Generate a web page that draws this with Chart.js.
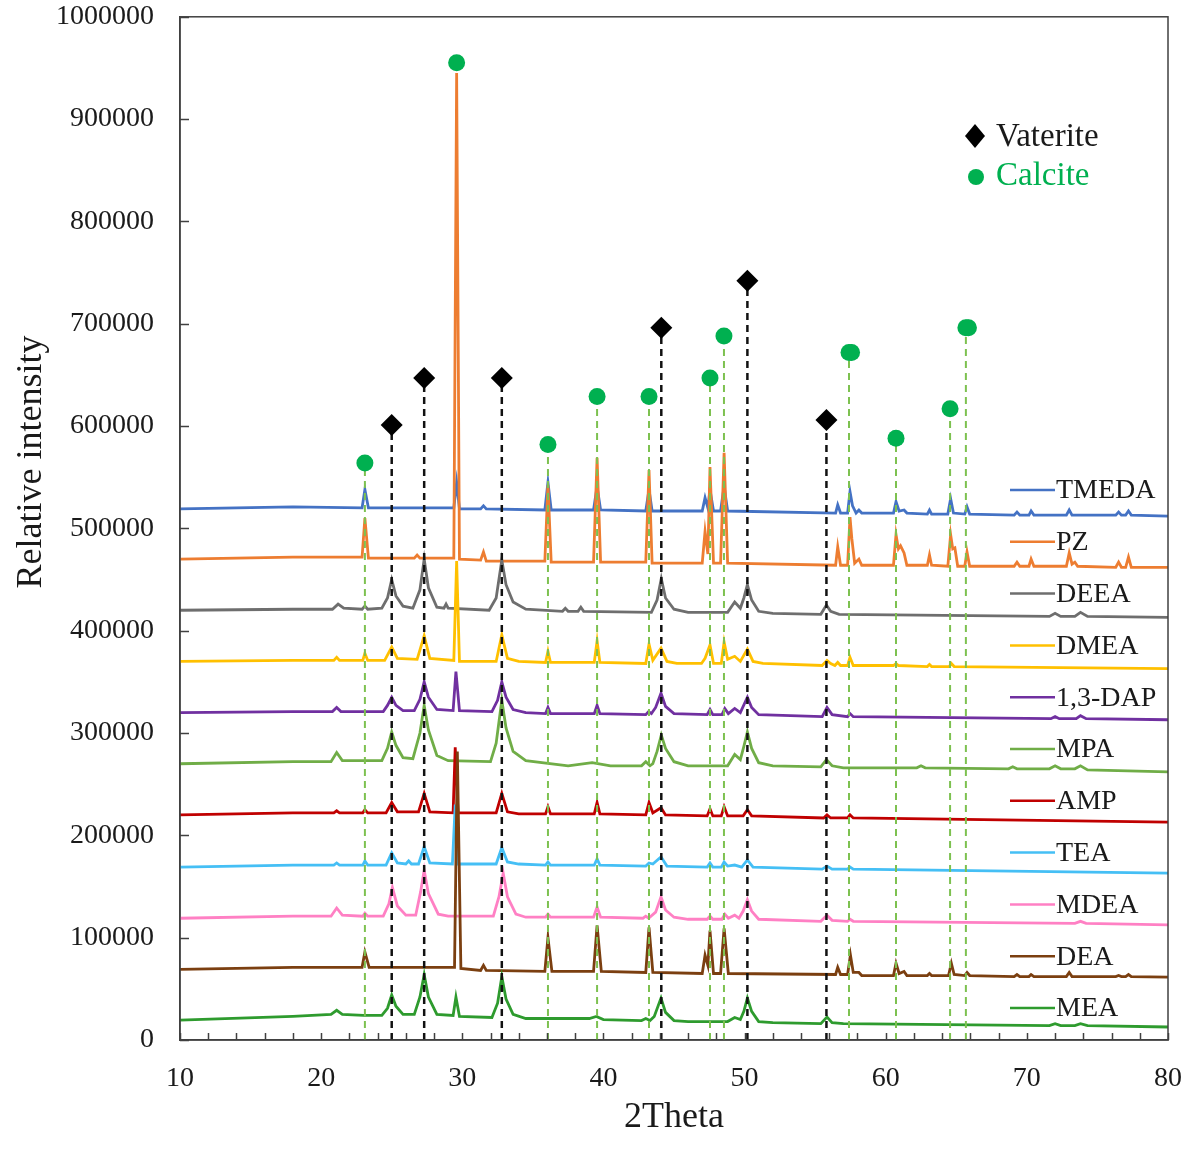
<!DOCTYPE html>
<html>
<head>
<meta charset="utf-8">
<title>XRD patterns</title>
<script src="https://cdn.jsdelivr.net/npm/chart.js@4.4.0/dist/chart.umd.min.js"></script>
<style>
  html, body { margin:0; padding:0; background:#fff; }
  #wrap { width:1200px; height:1163px; }
</style>
</head>
<body>
<div id="wrap"><canvas id="xrd" width="1200" height="1163"></canvas></div>
<script>
// ===== XRD patterns of precipitated CaCO3 =====
// intensities are written in thousands (k counts), offset per sample as in the figure

const SERIES_NAMES  = ['TMEDA','PZ','DEEA','DMEA','1,3-DAP','MPA','AMP','TEA','MDEA','DEA','MEA'];
const SERIES_COLORS = ['#4472C4','#ED7D31','#6E6E6E','#FFC000','#7030A0','#70AD47','#C00000','#45BFF5','#FF80C4','#7B3F10','#2E9B2E'];

const TMEDA = [[10,519],[18,521],[22.9,520],[23.1,538],[23.35,520],[29.4,520],[29.6,545],[29.8,519],[31.3,519],[31.5,522],[31.7,519],
  [35.85,518],[36.07,545],[36.3,518],[39.3,518],[39.55,541],[39.8,518],[43.0,517],[43.23,538],[43.45,517],[47.0,517],[47.2,530],[47.4,520],
  [47.55,538],[47.8,517],[48.3,517],[48.55,541],[48.8,517],[56.45,515],[56.6,523],[56.8,515],[57.3,515],[57.47,536],[57.65,522],[57.9,515],
  [58.1,518],[58.3,515],[60.55,515],[60.73,526],[60.95,517],[61.3,518],[61.5,515],[62.95,514],[63.1,518],[63.25,514],[64.4,514],[64.6,529],
  [64.8,515],[65.6,514],[65.76,521],[65.95,514],[69.1,513],[69.3,516],[69.5,513],[70.15,513],[70.3,517],[70.5,513],[72.8,513],[73.0,518],
  [73.2,513],[76.3,513],[76.5,516],[76.7,513],[77.0,513],[77.2,517],[77.4,513],[80,512]];

const PZ = [[10,470],[18,472],[22.9,472],[23.1,510],[23.35,471],[26.6,471],[26.8,474],[27.0,471],[29.4,471],[29.6,945],[29.8,470],
  [31.3,469],[31.5,477],[31.7,468],[35.85,468],[36.07,542],[36.3,467],[39.3,467],[39.55,569],[39.8,467],[43.0,467],[43.23,557],[43.45,466],
  [47.0,466],[47.2,497],[47.4,475],[47.55,560],[47.8,466],[48.3,466],[48.55,574],[48.8,466],[56.45,464],[56.6,482],[56.8,464],[57.3,464],
  [57.47,511],[57.6,490],[57.8,466],[58.1,470],[58.3,464],[60.55,464],[60.73,494],[60.9,480],[61.05,483],[61.3,476],[61.5,464],[62.95,464],
  [63.1,474],[63.25,464],[64.4,463],[64.6,494],[64.75,480],[64.9,481],[65.1,463],[65.6,463],[65.76,477],[65.95,463],[69.1,463],[69.3,467],
  [69.5,463],[70.15,463],[70.3,470],[70.5,463],[72.8,463],[73.0,476],[73.2,465],[73.4,467],[73.6,463],[76.3,462],[76.5,467],[76.7,462],
  [77.0,462],[77.2,472],[77.4,462],[80,462]];

const DEEA = [[10,420],[18,421],[20.8,421],[21.2,426],[21.6,422],[22.9,421],[23.1,424],[23.3,421],[24.3,422],[24.7,432],[25.0,450],[25.3,434],
  [25.8,424],[26.5,422],[27.0,440],[27.3,470],[27.6,442],[28.2,423],[28.7,422],[28.85,426],[29.0,422],[31.9,420],[32.4,432],[32.8,469],
  [33.1,445],[33.6,428],[34.5,421],[37.1,419],[37.3,422],[37.5,419],[38.2,419],[38.4,423],[38.6,419],[43.4,418],[43.8,430],[44.1,451],
  [44.4,432],[45.0,421],[46.0,418],[48.8,418],[49.3,428],[49.7,422],[49.95,432],[50.2,445],[50.5,430],[51.0,419],[52.0,417],[55.4,416],
  [55.8,425],[56.1,419],[56.7,416],[71.6,414],[72.0,417],[72.4,414],[73.4,414],[73.8,418],[74.3,414],[80,413]];

const DMEA = [[10,370],[18,371],[20.9,371],[21.1,374],[21.3,371],[22.95,371],[23.1,378],[23.3,371],[24.5,371],[25.0,384],[25.4,373],
  [26.8,372],[27.3,395],[27.7,373],[29.4,371],[29.6,468],[29.8,370],[32.4,370],[32.8,396],[33.2,373],[34.0,370],[35.9,369],[36.07,380],
  [36.25,369],[39.35,369],[39.55,390],[39.75,369],[43.0,368],[43.23,387],[43.5,371],[44.08,383],[44.5,370],[45.2,368],[46.95,368],[47.2,373],
  [47.55,386],[47.8,368],[48.35,368],[48.55,389],[48.8,372],[49.3,375],[49.7,370],[50.2,382],[50.6,370],[51.3,368],[55.5,366],[55.84,371],
  [56.1,368],[56.4,366],[56.6,369],[56.8,366],[57.3,366],[57.47,374],[57.7,366],[60.55,366],[60.73,368],[60.9,366],[62.95,365],[63.1,367],
  [63.25,365],[64.5,365],[64.65,368],[64.85,365],[80,363]];

const DAP = [[10,320],[18,321],[20.8,321],[21.1,325],[21.4,321],[24.4,321],[24.7,327],[25.0,335],[25.3,327],[25.8,322],[26.6,322],[27.0,333],
  [27.3,350],[27.6,335],[28.2,323],[29.35,322],[29.55,360],[29.8,322],[32.1,321],[32.5,332],[32.8,350],[33.1,335],[33.6,323],[34.5,320],
  [35.9,319],[36.07,325],[36.25,319],[39.35,319],[39.55,327],[39.75,319],[43.0,318],[43.2,321],[43.4,319],[43.7,325],[44.08,339],[44.4,326],
  [45.0,319],[47.35,318],[47.55,323],[47.75,318],[48.4,318],[48.6,324],[48.85,319],[49.3,324],[49.7,320],[50.2,335],[50.5,325],[51.0,318],
  [55.5,316],[55.84,325],[56.2,318],[57.3,316],[57.47,319],[57.7,316],[71.7,314],[72.0,316],[72.3,314],[73.5,314],[73.8,317],[74.2,314],[80,313]];

const MPA = [[10,270],[18,272],[20.7,272],[21.1,281],[21.5,273],[24.3,273],[24.7,285],[25.0,301],[25.3,288],[25.8,276],[26.5,275],[27.0,300],
  [27.3,327],[27.6,303],[28.2,278],[29.0,273],[32.0,272],[32.4,290],[32.8,332],[33.1,305],[33.6,282],[34.5,273],[37.5,268],[39.2,271],
  [40.5,268],[42.7,268],[43.0,272],[43.3,268],[43.5,270],[43.8,282],[44.1,298],[44.4,285],[45.0,272],[46.0,268],[48.8,268],[49.3,279],
  [49.7,274],[49.95,287],[50.2,301],[50.5,285],[51.0,271],[52.0,268],[55.4,267],[55.8,274],[56.2,268],[57.0,266],[62.2,266],[62.5,268],
  [62.8,266],[68.7,265],[69.0,267],[69.3,265],[71.6,265],[72.0,268],[72.4,265],[73.4,265],[73.8,268],[74.3,264],[80,262]];

const AMP = [[10,220],[18,222],[20.9,222],[21.1,224],[21.3,222],[22.95,222],[23.1,225],[23.3,222],[24.6,222],[25.0,232],[25.4,223],
  [26.9,223],[27.3,241],[27.7,223],[29.35,222],[29.5,286],[29.7,222],[32.4,222],[32.8,241],[33.2,223],[34.0,221],[35.9,221],[36.07,228],
  [36.25,221],[39.35,221],[39.55,232],[39.75,221],[43.0,220],[43.23,232],[43.5,222],[44.08,227],[44.4,220],[47.35,219],[47.55,226],
  [47.75,219],[48.35,219],[48.55,228],[48.8,219],[49.9,219],[50.2,225],[50.5,219],[55.6,217],[55.84,220],[56.1,217],[57.3,217],[57.47,220],
  [57.7,217],[80,213]];

const TEA = [[10,169],[18,171],[20.9,171],[21.1,173],[21.3,171],[22.95,171],[23.1,175],[23.3,171],[24.6,171],[25.0,183],[25.4,173],[26.0,172],
  [26.2,175],[26.4,172],[26.9,172],[27.3,189],[27.7,173],[29.3,172],[29.5,230],[29.7,172],[32.4,172],[32.8,188],[33.2,174],[34.0,172],
  [35.9,171],[36.07,174],[36.25,171],[39.35,171],[39.55,177],[39.75,171],[43.0,170],[43.23,173],[43.5,172],[44.08,179],[44.5,170],
  [47.35,169],[47.55,173],[47.75,169],[48.35,169],[48.55,174],[48.8,170],[49.3,171],[49.8,169],[50.2,176],[50.6,169],[55.5,167],[55.84,170],
  [56.2,167],[57.3,167],[57.47,169],[57.7,167],[80,163]];

const MDEA = [[10,119],[18,121],[20.7,121],[21.1,129],[21.5,122],[22.95,121],[23.1,124],[23.3,121],[24.4,121],[24.8,133],[25.05,149],
  [25.4,131],[26.0,122],[26.7,122],[27.05,145],[27.3,166],[27.6,143],[28.3,123],[29.0,121],[32.2,121],[32.6,140],[32.9,163],[33.2,140],
  [33.8,123],[34.5,120],[35.9,120],[36.07,123],[36.25,120],[39.3,120],[39.55,130],[39.8,120],[42.8,119],[43.0,121],[43.2,119],[43.7,125],
  [44.08,140],[44.4,127],[45.0,120],[46.0,118],[47.35,118],[47.55,121],[47.75,118],[48.4,118],[48.6,123],[48.85,119],[49.3,122],[49.6,119],
  [49.9,126],[50.2,137],[50.5,126],[51.0,118],[55.4,116],[55.84,122],[56.2,117],[57.3,116],[57.47,118],[57.7,116],[73.4,114],[73.8,116],
  [74.2,114],[80,112.5]];

const DEA = [[10,69],[18,71],[22.9,71],[23.1,86],[23.4,71],[29.45,71],[29.65,282],[29.9,70],[31.3,68],[31.5,73],[31.7,68],[35.85,67],
  [36.07,100],[36.35,67],[39.3,67],[39.55,112],[39.85,67],[43.0,66],[43.23,110],[43.5,66],[47.0,65],[47.2,83],[47.4,73],[47.55,107],
  [47.8,65],[48.3,65],[48.55,109],[48.85,65],[56.45,64],[56.6,71],[56.8,64],[57.3,64],[57.5,83],[57.7,66],[58.1,66],[58.3,63],[60.55,63],
  [60.73,75],[60.95,65],[61.3,67],[61.5,63],[62.95,63],[63.1,65],[63.25,63],[64.45,63],[64.65,75],[64.85,64],[65.6,63],[65.76,66],
  [65.95,63],[69.1,62],[69.3,64],[69.5,62],[70.15,62],[70.3,64],[70.5,62],[72.8,62],[73.0,66],[73.2,62],[76.3,62],[76.5,63],[76.7,62],
  [77.0,62],[77.2,64],[77.4,62],[80,61.5]];

const MEA = [[10,19.5],[18,23],[20.7,25],[21.1,29],[21.5,25],[23.0,24],[24.3,24],[24.7,31],[25.0,44],[25.3,33],[25.8,25],[26.6,25],
  [27.0,42],[27.3,64],[27.6,42],[28.2,25],[29.35,24],[29.55,42],[29.8,23],[32.1,22],[32.5,36],[32.8,62],[33.1,40],[33.6,25],[34.5,21],
  [36.07,21],[39.0,21],[39.5,23],[40.0,20],[42.7,19],[43.0,21],[43.3,19],[43.6,23],[44.08,41],[44.4,27],[45.0,19],[46.0,18],[48.8,18],
  [49.3,22],[49.7,20],[49.95,28],[50.2,41],[50.5,28],[51.0,18],[52.0,17],[55.4,16],[55.84,22.5],[56.2,17],[57.0,16],[71.6,14],[72.0,16],
  [72.4,14],[73.4,14],[73.8,16],[74.3,14],[80,12.7]];

const SERIES_DATA = [TMEDA, PZ, DEEA, DMEA, DAP, MPA, AMP, TEA, MDEA, DEA, MEA];

// phase reflections marked above the patterns (2theta, marker height in k)
const VATERITE_X = [25.0, 27.3, 32.8, 44.1, 50.2, 55.8];
const VATERITE_Y = [601, 647, 647, 696, 742, 606];
const CALCITE_X  = [23.1, 29.6, 36.07, 39.55, 43.23, 47.55, 48.54, 57.4, 57.58, 60.73, 64.56, 65.68, 65.86];
const CALCITE_Y  = [564, 955, 582, 629, 629, 647, 688, 672, 672, 588, 617, 696, 696];
const CALCITE_DASHED = [true, false, true, true, true, true, true, true, false, true, true, true, false];

const X_MIN = 10, X_MAX = 80, X_STEP = 10, X_MINOR = 2;
const Y_MIN = 0, Y_MAX = 1000000, Y_STEP = 100000;

const SERIF = '"Liberation Serif", "Times New Roman", serif';
const INK = '#1a1a1a';

function toPoints(pairs) {
  return pairs.map(p => ({ x: p[0], y: p[1] * 1000 }));
}

function dropLines(xs, ys, keep) {
  const pts = [];
  xs.forEach((x, i) => {
    if (keep && !keep[i]) return;
    pts.push({ x, y: 0 }, { x, y: ys[i] * 1000 }, { x, y: null });
  });
  return pts;
}

const datasets = [
  { label:'Vaterite', data: VATERITE_X.map((x,i) => ({ x, y: VATERITE_Y[i]*1000 })), showLine:false,
    pointStyle:'rectRot', pointRadius:11, pointBackgroundColor:'#000', pointBorderWidth:0, order:0 },
  { label:'Calcite', data: CALCITE_X.map((x,i) => ({ x, y: CALCITE_Y[i]*1000 })), showLine:false,
    pointStyle:'circle', pointRadius:8.5, pointBackgroundColor:'#00B050', pointBorderWidth:0, order:0 },
  { label:'vat-lines', data: dropLines(VATERITE_X, VATERITE_Y), borderColor:'#111', borderWidth:2.5,
    borderDash:[7,5], pointRadius:0, spanGaps:false, order:0 },
  { label:'cal-lines', data: dropLines(CALCITE_X, CALCITE_Y, CALCITE_DASHED), borderColor:'#7DC150', borderWidth:2,
    borderDash:[7,5], pointRadius:0, spanGaps:false, order:0 },
];

SERIES_NAMES.forEach((name, i) => {
  datasets.push({
    label: name,
    data: toPoints(SERIES_DATA[i]),
    borderColor: SERIES_COLORS[i],
    borderWidth: 2.8,
    pointRadius: 0,
    tension: 0,
    order: SERIES_NAMES.length - i   // later samples drawn on top
  });
});

const xrdDecor = {
  id: 'xrdDecor',
  afterDraw(chart) {
    const { ctx, chartArea: a, scales: { x, y } } = chart;
    ctx.save();
    // frame
    ctx.strokeStyle = '#404040';
    ctx.lineWidth = 1.5;
    ctx.strokeRect(a.left, a.top, a.right - a.left, a.bottom - a.top);
    // inward ticks
    ctx.beginPath();
    for (let v = Y_MIN; v <= Y_MAX; v += Y_STEP) {
      const py = Math.round(y.getPixelForValue(v)) + 0.5;
      ctx.moveTo(a.left, py); ctx.lineTo(a.left + 9, py);
    }
    for (let v = X_MIN; v <= X_MAX; v += X_MINOR) {
      const px = Math.round(x.getPixelForValue(v)) + 0.5;
      ctx.moveTo(px, a.bottom); ctx.lineTo(px, a.bottom - 7);
    }
    ctx.stroke();

    // y axis title (sits above the plot centre in the original)
    ctx.save();
    ctx.translate(32, 462);
    ctx.rotate(-Math.PI / 2);
    ctx.textAlign = 'center';
    ctx.textBaseline = 'middle';
    ctx.font = '36px ' + SERIF;
    ctx.fillStyle = INK;
    ctx.fillText('Relative intensity', 0, 0);
    ctx.restore();

    // sample legend
    ctx.textBaseline = 'middle';
    ctx.textAlign = 'left';
    ctx.font = '28px ' + SERIF;
    SERIES_NAMES.forEach((name, i) => {
      const ly = 490 + i * 51.8;
      ctx.strokeStyle = SERIES_COLORS[i];
      ctx.lineWidth = 2.5;
      ctx.beginPath(); ctx.moveTo(1010, ly); ctx.lineTo(1055, ly); ctx.stroke();
      ctx.fillStyle = INK;
      ctx.fillText(name, 1056, ly + 1);
    });

    // phase legend
    ctx.fillStyle = '#000';
    ctx.beginPath();
    ctx.moveTo(975, 124); ctx.lineTo(985, 136); ctx.lineTo(975, 148); ctx.lineTo(965, 136); ctx.closePath();
    ctx.fill();
    ctx.font = '33px ' + SERIF;
    ctx.fillStyle = INK;
    ctx.fillText('Vaterite', 996, 137);
    ctx.fillStyle = '#00B050';
    ctx.beginPath(); ctx.arc(976, 177, 8, 0, Math.PI * 2); ctx.fill();
    ctx.fillText('Calcite', 996, 176);
    ctx.restore();
  }
};

new Chart(document.getElementById('xrd'), {
  type: 'line',
  data: { datasets },
  plugins: [xrdDecor],
  options: {
    responsive: false,
    animation: false,
    layout: { padding: { top: 0, right: 32, left: 0, bottom: 0 } },
    plugins: { legend: { display: false }, tooltip: { enabled: false } },
    scales: {
      x: {
        type: 'linear', min: X_MIN, max: X_MAX,
        ticks: { stepSize: X_STEP, color: INK, padding: 0, font: { family: SERIF, size: 28 }, callback: v => String(v) },
        grid: { display: false, drawTicks: true, tickLength: 22 },
        border: { display: true, color:'#404040', width: 1.5 },
        title: { display: true, text: '2Theta', color: INK, font: { family: SERIF, size: 36 }, padding: { top: 0, bottom: 24 } },
        afterFit: s => { s.height = 123; }
      },
      y: {
        type: 'linear', min: Y_MIN, max: Y_MAX,
        ticks: { stepSize: Y_STEP, color: INK, padding: 0, font: { family: SERIF, size: 28 }, callback: v => String(v) },
        grid: { display: false, drawTicks: true, tickLength: 26 },
        border: { display: true, color:'#404040', width: 1.5 },
        title: { display: false },
        afterFit: s => { s.width = 180; }
      }
    }
  }
});
</script>
</body>
</html>
